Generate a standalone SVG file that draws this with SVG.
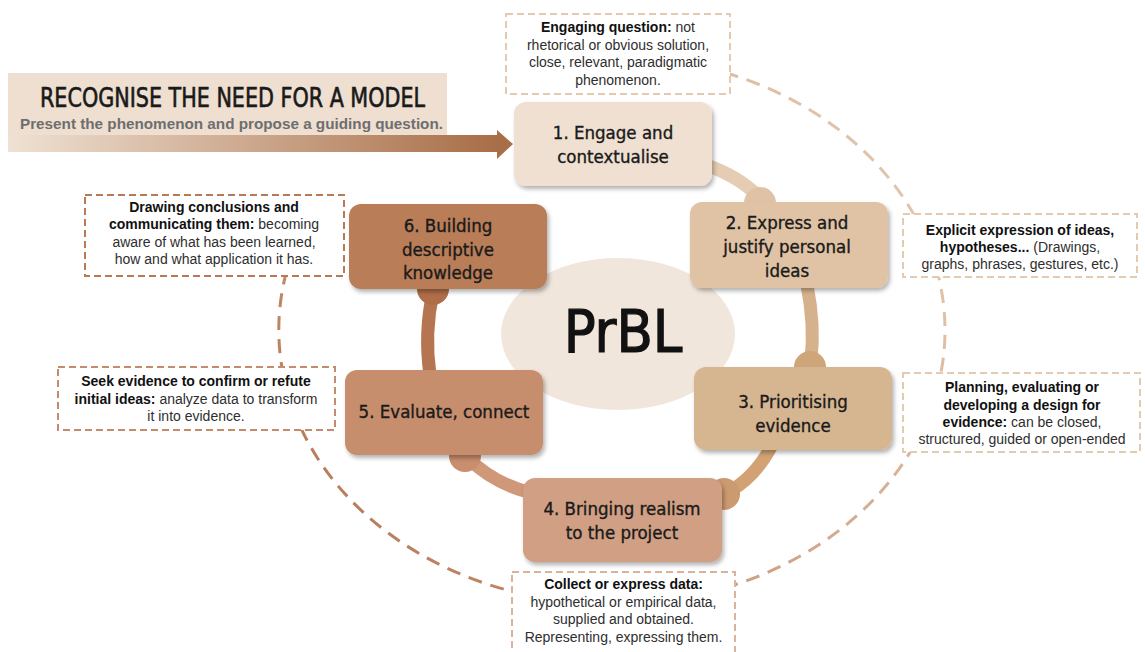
<svg xmlns="http://www.w3.org/2000/svg" width="1145" height="652" viewBox="0 0 1145 652">
<defs>
<style>
.node{stroke:none;filter:url(#sh)}
.nt{font-family:"DejaVu Sans Condensed","DejaVu Sans",sans-serif;font-size:18.5px;fill:#1a1a1a;stroke:#1a1a1a;stroke-width:0.35px;text-anchor:middle}
.ann{fill:#ffffff;stroke-width:2;stroke-dasharray:7 4}
.at{font-family:"Liberation Sans",Arial,sans-serif;font-size:14px;fill:#2e2e2e;text-anchor:middle}
.at .b{font-weight:bold;fill:#111111}
.band{fill:none;stroke-width:13;stroke-linecap:butt}
.big{fill:none;stroke:url(#eg);stroke-width:3;stroke-dasharray:14 9}
</style>
<filter id="sh" x="-10%" y="-10%" width="125%" height="130%">
<feDropShadow dx="2" dy="3" stdDeviation="2" flood-color="#000" flood-opacity="0.3"/>
</filter>
<linearGradient id="ag" x1="8" y1="0" x2="498" y2="0" gradientUnits="userSpaceOnUse">
<stop offset="0" stop-color="#EFE1D3"/>
<stop offset="1" stop-color="#A86E47"/>
</linearGradient>
<linearGradient id="eg" x1="900" y1="100" x2="300" y2="550" gradientUnits="userSpaceOnUse">
<stop offset="0" stop-color="#E3CAB1"/>
<stop offset="0.5" stop-color="#D0A487"/>
<stop offset="1" stop-color="#B57552"/>
</linearGradient>
</defs>
<rect width="1145" height="652" fill="#ffffff"/>

<g id="cycle-outline">
<path class="big" d="M 520 67 A 333 274 0 0 1 945 330 A 333 274 0 0 1 726 587.5"/>
<path class="big" d="M 526 594.7 A 333 274 0 0 1 288 266"/>
</g>

<g id="banner">
<rect x="8" y="73" width="439" height="79" fill="#EEDFD0"/>
<rect x="8" y="135" width="490" height="17" fill="url(#ag)"/>
<polygon points="497,130 513,144 497,159" fill="#A86E47"/>
<text x="40" y="107" textLength="385" lengthAdjust="spacingAndGlyphs" font-family="DejaVu Sans Condensed, DejaVu Sans, sans-serif" font-size="26" fill="#1a1a1a" stroke="#1a1a1a" stroke-width="0.6">RECOGNISE THE NEED FOR A MODEL</text>
<text x="20" y="129" textLength="423" lengthAdjust="spacingAndGlyphs" font-family="Liberation Sans, Arial, sans-serif" font-size="15" font-weight="bold" fill="#6E6E6E">Present the phenomenon and propose a guiding question.</text>
</g>

<g id="connectors">
<path class="band" stroke="#E5CCB2" d="M 706 165 Q 738 176 758 196"/>
<circle cx="760" cy="203" r="16" fill="#E0C3A6"/>
<path class="band" stroke="#D6B28C" d="M 807 285 Q 815 325 811 360"/>
<circle cx="810" cy="367" r="16" fill="#CFA57A"/>
<path class="band" stroke="#D2A275" d="M 772 445 Q 756 476 730 491"/>
<circle cx="724" cy="494" r="16" fill="#CC9A70"/>
<path class="band" stroke="#CE9879" d="M 468 458 Q 494 484 532 493"/>
<circle cx="465" cy="456" r="16" fill="#C98E6E"/>
<path class="band" stroke="#B57550" d="M 433 292 Q 424 333 430 375"/>
<circle cx="433" cy="289" r="16" fill="#AF6E48"/>
</g>

<g id="center">
<ellipse cx="618" cy="334" rx="117" ry="76" fill="#F1E6DC"/>
<text x="623" y="352" font-family="DejaVu Sans Condensed, DejaVu Sans, sans-serif" font-size="59" fill="#111111" stroke="#111111" stroke-width="1.2" text-anchor="middle">PrBL</text>
</g>

<g id="node1">
<rect class="node" x="514" y="102" width="198" height="84" rx="12" fill="#EFE0D1"/>
<text class="nt" x="613" y="139">1. Engage and</text>
<text class="nt" x="613" y="163">contextualise</text>
</g>
<g id="node2">
<rect class="node" x="690" y="202" width="198" height="86" rx="12" fill="#E0C3A5"/>
<text class="nt" x="787" y="229">2. Express and</text>
<text class="nt" x="787" y="253">justify personal</text>
<text class="nt" x="787" y="277">ideas</text>
</g>
<g id="node3">
<rect class="node" x="694" y="367" width="198" height="83" rx="12" fill="#D6B591"/>
<text class="nt" x="793" y="408">3. Prioritising</text>
<text class="nt" x="793" y="432">evidence</text>
</g>
<g id="node4">
<rect class="node" x="523" y="478" width="199" height="84" rx="12" fill="#D1A084"/>
<text class="nt" x="622" y="515">4. Bringing realism</text>
<text class="nt" x="622" y="539">to the project</text>
</g>
<g id="node5">
<rect class="node" x="345" y="370" width="198" height="85" rx="12" fill="#C78E6D"/>
<text class="nt" x="444" y="418">5. Evaluate, connect</text>
</g>
<g id="node6">
<rect class="node" x="349" y="204" width="198" height="85" rx="12" fill="#B97D59"/>
<text class="nt" x="448" y="232">6. Building</text>
<text class="nt" x="448" y="256">descriptive</text>
<text class="nt" x="448" y="279">knowledge</text>
</g>

<g id="note1">
<rect class="ann" x="506" y="14" width="224" height="80" stroke="#E3CAB1"/>
<text class="at" x="618" y="32"><tspan class="b">Engaging question:</tspan> not</text>
<text class="at" x="618" y="49.5">rhetorical or obvious solution,</text>
<text class="at" x="618" y="67">close, relevant, paradigmatic</text>
<text class="at" x="618" y="84.5">phenomenon.</text>
</g>
<g id="note2">
<rect class="ann" x="903" y="214" width="234" height="63" stroke="#E3CAB1"/>
<text class="at" x="1020" y="235"><tspan class="b">Explicit expression of ideas,</tspan></text>
<text class="at" x="1020" y="252"><tspan class="b">hypotheses...</tspan> (Drawings,</text>
<text class="at" x="1020" y="269">graphs, phrases, gestures, etc.)</text>
</g>
<g id="note3">
<rect class="ann" x="903" y="373" width="237" height="79" stroke="#E3CAB1"/>
<text class="at" x="1022" y="392"><tspan class="b">Planning, evaluating or</tspan></text>
<text class="at" x="1022" y="410"><tspan class="b">developing a design for</tspan></text>
<text class="at" x="1022" y="427"><tspan class="b">evidence:</tspan> can be closed,</text>
<text class="at" x="1022" y="444">structured, guided or open-ended</text>
</g>
<g id="note4">
<rect class="ann" x="512" y="572" width="223" height="90" stroke="#D9B39B"/>
<text class="at" x="623.5" y="589"><tspan class="b">Collect or express data:</tspan></text>
<text class="at" x="623.5" y="607">hypothetical or empirical data,</text>
<text class="at" x="623.5" y="624">supplied and obtained.</text>
<text class="at" x="623.5" y="642">Representing, expressing them.</text>
</g>
<g id="note5">
<rect class="ann" x="58" y="367" width="277" height="63" stroke="#C58C6C"/>
<text class="at" x="196" y="386"><tspan class="b">Seek evidence to confirm or refute</tspan></text>
<text class="at" x="196" y="404"><tspan class="b">initial ideas:</tspan> analyze data to transform</text>
<text class="at" x="196" y="421">it into evidence.</text>
</g>
<g id="note6">
<rect class="ann" x="85" y="195" width="259" height="81" stroke="#B77A55"/>
<text class="at" x="214" y="212"><tspan class="b">Drawing conclusions and</tspan></text>
<text class="at" x="214" y="229"><tspan class="b">communicating them:</tspan> becoming</text>
<text class="at" x="214" y="247">aware of what has been learned,</text>
<text class="at" x="214" y="264">how and what application it has.</text>
</g>
</svg>
